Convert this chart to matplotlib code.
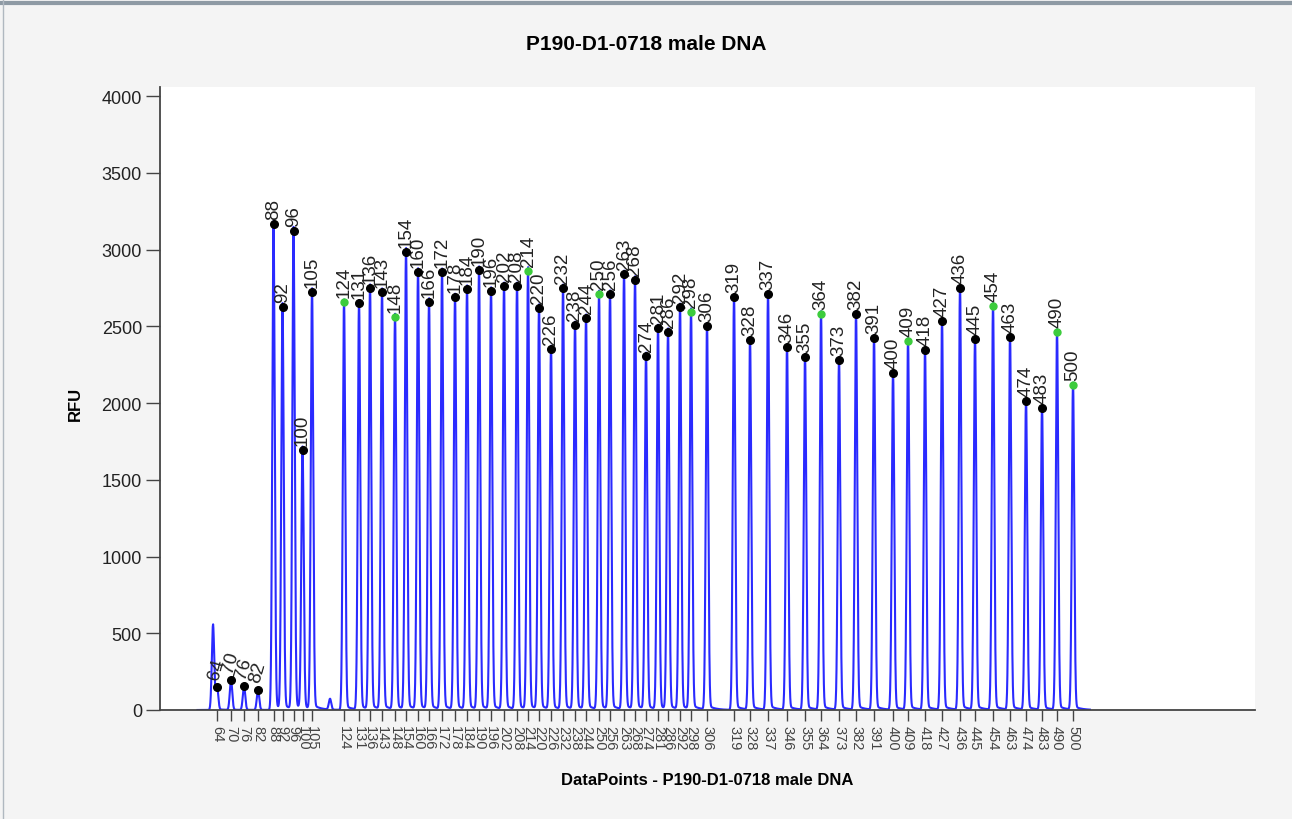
import numpy as np
import matplotlib
matplotlib.use("Agg")
import matplotlib.pyplot as plt

plt.rcParams['font.family'] = ['Liberation Sans', 'DejaVu Sans']

# fragment sizes (bp) of the called peaks
sizes = [64, 70, 76, 82, 88, 92, 96, 100, 105, 124, 131, 136, 143, 148, 154, 160,
         166, 172, 178, 184, 190, 196, 202, 208, 214, 220, 226, 232, 238, 244, 250,
         256, 263, 268, 274, 281, 286, 292, 298, 306, 319, 328, 337, 346, 355, 364,
         373, 382, 391, 400, 409, 418, 427, 436, 445, 454, 463, 474, 483, 490, 500]

# data point position of each peak
datapoints = [2228, 2284, 2336, 2392, 2454, 2490, 2534, 2570, 2608, 2736, 2796, 2840,
              2888, 2940, 2984, 3032, 3076, 3128, 3180, 3228, 3276, 3324, 3376, 3428,
              3472, 3516, 3564, 3612, 3660, 3704, 3756, 3800, 3856, 3900, 3944, 3992,
              4032, 4080, 4124, 4188, 4296, 4360, 4432, 4508, 4580, 4644, 4716, 4784,
              4856, 4932, 4992, 5060, 5128, 5200, 5260, 5332, 5400, 5464, 5528, 5588,
              5652]

# peak heights (RFU)
rfu = [150, 195, 156, 130, 3166, 2625, 3120, 1694, 2723, 2658, 2651, 2749, 2723,
       2560, 2984, 2853, 2658, 2853, 2690, 2743, 2866, 2730, 2762, 2762, 2860, 2619,
       2352, 2749, 2508, 2554, 2710, 2710, 2840, 2801, 2306, 2489, 2463, 2625, 2593,
       2502, 2690, 2410, 2710, 2365, 2300, 2580, 2280, 2580, 2423, 2195, 2404, 2345,
       2534, 2749, 2417, 2632, 2430, 2013, 1967, 2463, 2117]

# sizes flagged green by the software
green_sizes = [124, 148, 214, 250, 298, 364, 409, 454, 490, 500]

# unlabelled peaks (primer peak and a small artefact)
extra_dp = [2212, 2680]
extra_rfu = [554, 70]

# build the trace from the peak list
x = np.arange(2150, 5720, 0.5)
y = np.zeros_like(x)
for mu, h in zip(datapoints + extra_dp, rfu + extra_rfu):
    d = x - mu
    y += h * np.exp(-0.5 * (d / 4.8) ** 2)
    y += np.where(d > 0, h * 0.012 * np.exp(-d / 28.0), 0)

fig = plt.figure(figsize=(12.92, 8.2), dpi=100)
fig.patch.set_facecolor('#f4f4f4')
ax = fig.add_axes([160 / 1292, 1 - 711 / 820, 1095 / 1292, 623 / 820])
ax.set_facecolor('white')

ax.plot(x, y, color='#2a2aff', lw=1.5)

for s, dp, h in zip(sizes, datapoints, rfu):
    c = '#3ccc3c' if s in green_sizes else 'black'
    ms = 5 if s in green_sizes else 5.5
    ax.plot(dp, h, 'o', color=c, ms=ms, zorder=5)
    rot = 74 if s < 85 else 90
    ax.annotate(str(s), (dp, h), xytext=(0, 4), textcoords='offset points',
                rotation=rot, ha='center', va='bottom', fontsize=13.5, color='#222222')

ax.set_xlim(2000, 6380)
ax.set_ylim(0, 4060)
ax.set_xticks(datapoints)
ax.set_xticklabels([str(s) for s in sizes], rotation=270, fontsize=10.5, color='#333333')
ax.set_yticks(range(0, 4001, 500))
ax.tick_params(axis='y', length=10, width=1, colors='#444444', labelsize=13,
               labelcolor='#222222', pad=3)
ax.tick_params(axis='x', length=8, width=1, colors='#444444', pad=3)

for side in ['top', 'right']:
    ax.spines[side].set_visible(False)
ax.spines['left'].set_color('#444444')
ax.spines['bottom'].set_color('#444444')
ax.spines['left'].set_linewidth(1.3)
ax.spines['bottom'].set_linewidth(1.3)

ax.set_xlabel('DataPoints - P190-D1-0718 male DNA', fontsize=12, fontweight='bold')
ax.xaxis.label.set_va('center')
ax.xaxis.set_label_coords(0.5, -70 / 623)
ax.set_ylabel('RFU', fontsize=12, fontweight='bold')
ax.yaxis.label.set_va('center')
ax.yaxis.set_label_coords(-85 / 1095, 307 / 623)
fig.text(0.5, 1 - 45 / 820, 'P190-D1-0718 male DNA', ha='center', va='center',
         fontsize=15, fontweight='bold')

# window frame edges
fig.add_artist(plt.Line2D([0, 1], [1 - 4 / 820, 1 - 4 / 820], color='#8e9aa4', lw=3))
fig.add_artist(plt.Line2D([3 / 1292, 3 / 1292], [0, 1], color='#b0b8c0', lw=1))

fig.savefig('out.png', dpi=100, facecolor=fig.get_facecolor())
